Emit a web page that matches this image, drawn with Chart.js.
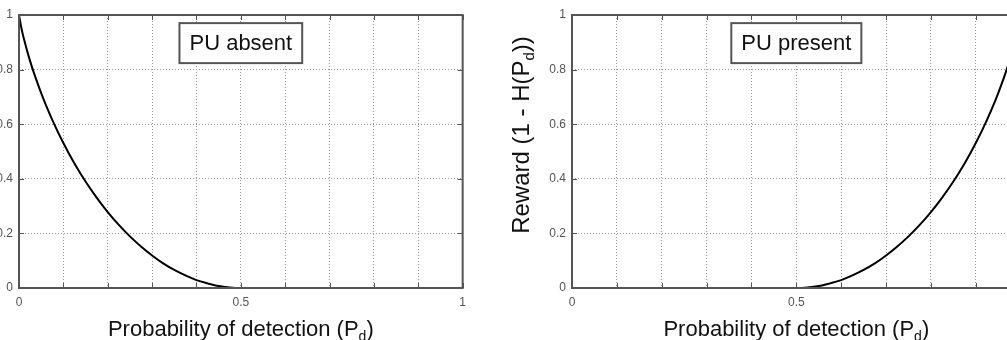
<!DOCTYPE html>
<html>
<head>
<meta charset="utf-8">
<script src="https://cdn.jsdelivr.net/npm/chart.js@4.4.0/dist/chart.umd.min.js"></script>
<style>
    html, body { margin: 0; padding: 0; background: #fff; overflow: hidden; }
    #wrap { position: relative; width: 1007px; height: 340px; overflow: hidden; background: #fff; }
    #wrap canvas { position: absolute; top: 0; }
    #absentChart { left: -21px; }
    #presentChart { left: 502px; }
</style>
</head>
<body>
<div id="wrap">
    <canvas id="absentChart" width="494" height="340"></canvas>
    <canvas id="presentChart" width="529" height="340"></canvas>
</div>
<script>
// reward when PU is absent
var absentX = [0, 0.005, 0.01, 0.025, 0.05, 0.075, 0.1, 0.125, 0.15, 0.175, 0.2, 0.225, 0.25, 0.275, 0.3, 0.325, 0.35, 0.375, 0.4, 0.425, 0.45, 0.475, 0.5, 1];
var absentY = [1, 0.955, 0.919, 0.831, 0.714, 0.616, 0.531, 0.456, 0.390, 0.331, 0.278, 0.231, 0.189, 0.152, 0.119, 0.090, 0.066, 0.046, 0.029, 0.017, 0.007, 0.002, 0, 0];

// reward when PU is present
var presentX = [0, 0.5, 0.525, 0.55, 0.575, 0.6, 0.625, 0.65, 0.675, 0.7, 0.725, 0.75, 0.775, 0.8, 0.825, 0.85, 0.875, 0.9, 0.925, 0.95, 0.975, 0.99, 0.995, 1];
var presentY = [0, 0, 0.002, 0.007, 0.017, 0.029, 0.046, 0.066, 0.090, 0.119, 0.152, 0.189, 0.231, 0.278, 0.331, 0.390, 0.456, 0.531, 0.616, 0.714, 0.831, 0.919, 0.955, 1];

var xTickValues = [0, 0.5, 1];
var xTickLabels = ['0', '0.5', '1'];
var yTickValues = [0, 0.2, 0.4, 0.6, 0.8, 1];
var yTickLabels = ['0', '0.2', '0.4', '0.6', '0.8', '1'];

var fontFamily = '"Liberation Sans", Arial, Helvetica, sans-serif';

function toPoints(xs, ys) {
    var pts = [];
    for (var i = 0; i < xs.length; i++) {
        pts.push({ x: xs[i], y: ys[i] });
    }
    return pts;
}

function pickLabel(value, values, labels) {
    for (var i = 0; i < values.length; i++) {
        if (Math.abs(value - values[i]) < 1e-6) return labels[i];
    }
    return '';
}

// draws before + subscript + after, centred on x
function drawSubText(ctx, before, sub, after, x, y, size) {
    var big = size + 'px ' + fontFamily;
    var small = Math.round(size * 0.63) + 'px ' + fontFamily;
    ctx.font = big;
    var w1 = ctx.measureText(before).width;
    var w3 = ctx.measureText(after).width;
    ctx.font = small;
    var w2 = ctx.measureText(sub).width;
    var start = x - (w1 + w2 + w3) / 2;
    ctx.textAlign = 'left';
    ctx.textBaseline = 'alphabetic';
    ctx.fillStyle = '#111';
    ctx.font = big;
    ctx.fillText(before, start, y);
    ctx.font = small;
    ctx.fillText(sub, start + w1, y + 5);
    ctx.font = big;
    ctx.fillText(after, start + w1 + w2, y);
}

var decoPlugin = {
    id: 'deco',
    afterDraw: function (chart, args, opts) {
        var ctx = chart.ctx;
        var area = chart.chartArea;
        var xs = chart.scales.x;
        var ys = chart.scales.y;
        ctx.save();

        // small inward ticks on all four sides
        ctx.strokeStyle = '#555';
        ctx.lineWidth = 1;
        ctx.beginPath();
        xs.ticks.forEach(function (t) {
            var px = Math.round(xs.getPixelForValue(t.value)) + 0.5;
            ctx.moveTo(px, area.bottom); ctx.lineTo(px, area.bottom - 5);
            ctx.moveTo(px, area.top); ctx.lineTo(px, area.top + 5);
        });
        ys.ticks.forEach(function (t) {
            var py = Math.round(ys.getPixelForValue(t.value)) + 0.5;
            ctx.moveTo(area.left, py); ctx.lineTo(area.left + 5, py);
            ctx.moveTo(area.right, py); ctx.lineTo(area.right - 5, py);
        });
        ctx.stroke();

        // axes box
        ctx.strokeStyle = '#555';
        ctx.lineWidth = 2;
        ctx.strokeRect(area.left, area.top, area.right - area.left, area.bottom - area.top);

        // label box
        ctx.font = '22px ' + fontFamily;
        var tw = ctx.measureText(opts.boxText).width;
        var bw = tw + 20, bh = 40;
        var cx = xs.getPixelForValue(0.5);
        var cy = ys.getPixelForValue(0.897);
        ctx.fillStyle = '#fff';
        ctx.fillRect(cx - bw / 2, cy - bh / 2, bw, bh);
        ctx.strokeStyle = '#555';
        ctx.lineWidth = 2;
        ctx.strokeRect(cx - bw / 2, cy - bh / 2, bw, bh);
        ctx.fillStyle = '#111';
        ctx.textAlign = 'center';
        ctx.textBaseline = 'middle';
        ctx.fillText(opts.boxText, cx, cy + 1);

        // x axis title
        drawSubText(ctx, 'Probability of detection (P', 'd', ')', (area.left + area.right) / 2, area.bottom + 48, 22);

        // y axis title (right panel only)
        if (opts.yTitle) {
            ctx.save();
            ctx.translate(opts.yTitleX, opts.yTitleY);
            ctx.rotate(-Math.PI / 2);
            drawSubText(ctx, 'Reward (1 - H(P', 'd', '))', 0, 0, 24);
            ctx.restore();
        }
        ctx.restore();
    }
};

function makeOptions(yWidth, deco) {
    return {
        responsive: false,
        maintainAspectRatio: false,
        animation: false,
        devicePixelRatio: 1,
        layout: { padding: { left: 0, top: 15, right: 10, bottom: 0 } },
        plugins: {
            legend: { display: false },
            tooltip: { enabled: false },
            deco: deco
        },
        scales: {
            x: {
                type: 'linear',
                min: 0,
                max: 1,
                ticks: {
                    stepSize: 0.1,
                    autoSkip: false,
                    maxRotation: 0,
                    padding: 7,
                    color: '#555',
                    font: { family: fontFamily, size: 12 },
                    callback: function (v) { return pickLabel(v, xTickValues, xTickLabels); }
                },
                grid: { color: '#9a9a9a', lineWidth: 1, drawTicks: false },
                border: { display: false, dash: [1, 2] },
                afterFit: function (s) { s.height = 52; }
            },
            y: {
                min: 0,
                max: 1,
                ticks: {
                    stepSize: 0.2,
                    padding: 6,
                    color: '#555',
                    font: { family: fontFamily, size: 12 },
                    callback: function (v) { return pickLabel(v, yTickValues, yTickLabels); }
                },
                grid: { color: '#9a9a9a', lineWidth: 1, drawTicks: false },
                border: { display: false, dash: [1, 2] },
                afterFit: function (s) { s.width = yWidth; }
            }
        }
    };
}

function drawRewardChart(canvasId, xs, ys, yWidth, deco) {
    return new Chart(document.getElementById(canvasId), {
        type: 'line',
        data: {
            datasets: [{
                data: toPoints(xs, ys),
                borderColor: '#000',
                borderWidth: 2,
                pointRadius: 0,
                fill: false,
                cubicInterpolationMode: 'monotone'
            }]
        },
        options: makeOptions(yWidth, deco),
        plugins: [decoPlugin]
    });
}

drawRewardChart('absentChart', absentX, absentY, 40, { boxText: 'PU absent', yTitle: false });
drawRewardChart('presentChart', presentX, presentY, 70, { boxText: 'PU present', yTitle: true, yTitleX: 27, yTitleY: 135 });
</script>
</body>
</html>
